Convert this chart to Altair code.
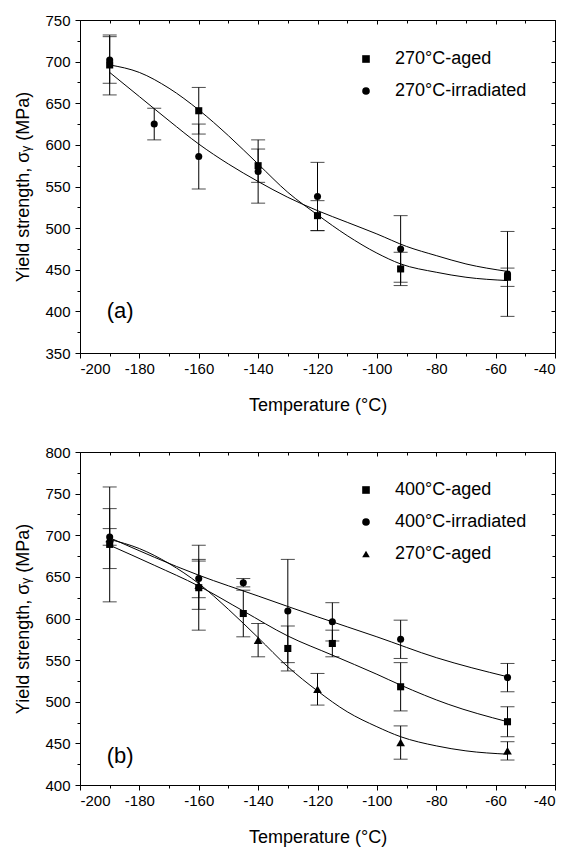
import altair as alt
import pandas as pd

# ---------------- Panel (a) data ----------------
A_SERIES = ["270°C-aged", "270°C-irradiated"]
A_SHAPES = ["square", "circle"]
A_AGED_T = [-190, -160, -140, -120, -92, -56]
A_AGED_Y = [696, 641, 575, 515, 451, 441]
A_AGED_E = [36, 28, 20, 18, 20, 11]
A_IRR_T = [-190, -175, -160, -140, -120, -92, -56]
A_IRR_Y = [702, 625, 586, 568, 538, 475, 445]
A_IRR_E = [28, 19, 39, 38, 41, 40, 51]
A_AGED_FIT_T = [-190, -180, -170, -160, -150, -140, -130, -120, -110, -100, -92, -80, -70, -56]
A_AGED_FIT_Y = [696, 687, 668, 642, 611, 577, 543, 516, 491, 470, 457, 447, 441, 437]
A_IRR_FIT_T = [-190, -180, -170, -160, -150, -140, -130, -120, -110, -100, -90, -80, -70, -56]
A_IRR_FIT_Y = [687, 658, 629, 601, 577, 556, 537, 521, 507, 493, 478, 467, 457, 448]

# ---------------- Panel (b) data ----------------
B_SERIES = ["400°C-aged", "400°C-irradiated", "270°C-aged"]
B_SHAPES = ["square", "circle", "triangle-up"]
B_400_T = [-190, -160, -145, -130, -115, -92, -56]
B_AGED400_Y = [689, 637, 606, 564, 570, 518, 476]
B_AGED400_E = [69, 51, 28, 27, 16, 29, 18]
B_IRR400_Y = [698, 648, 643, 609, 596, 575, 529]
B_IRR400_E = [10, 23, 5, 62, 23, 23, 17]
B_AGED270_T = [-190, -160, -140, -120, -92, -56]
B_AGED270_Y = [696, 640, 574, 515, 451, 441]
B_AGED270_E = [36, 29, 20, 19, 20, 11]
B_AGED400_FIT_T = [-190, -175, -160, -145, -130, -115, -100, -92, -76, -56]
B_AGED400_FIT_Y = [688, 664, 639, 609, 579, 556, 533, 520, 497, 476]
B_IRR400_FIT_T = [-190, -160, -140, -120, -100, -80, -56]
B_IRR400_FIT_Y = [697, 652, 627, 602, 578, 553, 530]
B_AGED270_FIT_T = [-190, -180, -170, -160, -150, -140, -130, -120, -110, -100, -92, -80, -70, -56]
B_AGED270_FIT_Y = [695, 684, 666, 642, 611, 577, 542, 513, 488, 470, 458, 447, 441, 437]

X_TICKS = list(range(-200, -39, 10))
W, H = 475, 333
FONT = "Liberation Sans"


def pts_frame(series, ts, ys, es):
    rows = []
    for s, t, y, e in zip(series, ts, ys, es):
        for ti, yi, ei in zip(t, y, e):
            rows.append({"series": s, "T": ti, "val": yi, "lo": yi - ei, "hi": yi + ei})
    return pd.DataFrame(rows)


def fit_frame(series, ts, ys):
    rows = []
    for s, t, y in zip(series, ts, ys):
        for ti, yi in zip(t, y):
            rows.append({"series": s, "T": ti, "val": yi})
    return pd.DataFrame(rows)


def cond_size(step, major, minor):
    return {"condition": {"test": f"datum.value % {step} == 0", "value": major}, "value": minor}


def panel(pts, fits, order, shapes, ymin, ymax, label, label_val, leg_y, tri_series=None):
    xs = alt.Scale(domain=[-200, -40], nice=False, zero=False)
    ys = alt.Scale(domain=[ymin, ymax], nice=False, zero=False)
    y_ticks = list(range(ymin, ymax + 1, 25))

    x_main = alt.Axis(orient="bottom", values=X_TICKS,
                      labelExpr="datum.value % 20 == 0 ? '' + datum.value : ''",
                      tickSize=cond_size(20, 5, 3), labelPadding=3,
                      title="Temperature (°C)", titlePadding=20)
    y_main = alt.Axis(orient="left", values=y_ticks,
                      labelExpr="datum.value % 50 == 0 ? '' + datum.value : ''",
                      tickSize=cond_size(50, 5, 3), labelPadding=5,
                      title="Yield strength, σᵧ (MPa)", titlePadding=12)
    x_mirror = alt.Axis(orient="bottom", offset=-H, values=X_TICKS, labels=False,
                        domain=False, title=None, tickSize=cond_size(20, 4, 3))
    y_mirror = alt.Axis(orient="left", offset=-W, values=y_ticks, labels=False,
                        domain=False, title=None, tickSize=cond_size(50, 4, 3))

    curves = alt.Chart(fits).mark_line(color="black", strokeWidth=1, interpolate="monotone").encode(
        x=alt.X("T:Q", scale=xs, axis=x_main),
        y=alt.Y("val:Q", scale=ys, axis=y_main),
        detail="series:N",
    )
    mirror = alt.Chart(pts).mark_point(opacity=0).encode(
        x=alt.X("T:Q", scale=xs, axis=x_mirror),
        y=alt.Y("val:Q", scale=ys, axis=y_mirror),
    )
    bars = alt.Chart(pts).mark_rule(color="black", strokeWidth=1).encode(
        x=alt.X("T:Q", scale=xs, axis=None),
        y=alt.Y("lo:Q", scale=ys, axis=None),
        y2="hi:Q",
    )
    cap_lo = alt.Chart(pts).mark_tick(color="black", orient="horizontal", size=14, thickness=1).encode(
        x=alt.X("T:Q", scale=xs, axis=None),
        y=alt.Y("lo:Q", scale=ys, axis=None),
    )
    cap_hi = alt.Chart(pts).mark_tick(color="black", orient="horizontal", size=14, thickness=1).encode(
        x=alt.X("T:Q", scale=xs, axis=None),
        y=alt.Y("hi:Q", scale=ys, axis=None),
    )
    if tri_series:
        size_enc = alt.condition(f"datum.series == '{tri_series}'", alt.value(75), alt.value(50))
    else:
        size_enc = alt.value(50)
    points = alt.Chart(pts).mark_point(filled=True, color="black", opacity=1).encode(
        x=alt.X("T:Q", scale=xs, axis=None),
        y=alt.Y("val:Q", scale=ys, axis=None),
        size=size_enc,
        shape=alt.Shape("series:N", scale=alt.Scale(domain=order, range=shapes),
                        legend=alt.Legend(orient="none", legendX=277, legendY=leg_y, title=None,
                                          labelFontSize=18, labelFont=FONT, symbolSize=58,
                                          symbolFillColor="black", symbolStrokeColor="black",
                                          labelColor="black",
                                          rowPadding=14, labelOffset=20, padding=0)),
    )
    lab = alt.Chart(pd.DataFrame({"T": [-191], "val": [label_val], "t": [label]})).mark_text(
        align="left", baseline="middle", fontSize=22, font=FONT, color="black"
    ).encode(
        x=alt.X("T:Q", scale=xs, axis=None),
        y=alt.Y("val:Q", scale=ys, axis=None),
        text="t:N",
    )
    return alt.layer(curves, mirror, bars, cap_lo, cap_hi, points, lab).resolve_axis(
        x="independent", y="independent"
    ).properties(width=W, height=H)


pts_a = pts_frame(A_SERIES, [A_AGED_T, A_IRR_T], [A_AGED_Y, A_IRR_Y], [A_AGED_E, A_IRR_E])
fit_a = fit_frame(A_SERIES, [A_AGED_FIT_T, A_IRR_FIT_T], [A_AGED_FIT_Y, A_IRR_FIT_Y])
pts_b = pts_frame(B_SERIES, [B_400_T, B_400_T, B_AGED270_T],
                  [B_AGED400_Y, B_IRR400_Y, B_AGED270_Y], [B_AGED400_E, B_IRR400_E, B_AGED270_E])
fit_b = fit_frame(B_SERIES, [B_AGED400_FIT_T, B_IRR400_FIT_T, B_AGED270_FIT_T],
                  [B_AGED400_FIT_Y, B_IRR400_FIT_Y, B_AGED270_FIT_Y])

pa = panel(pts_a, fit_a, A_SERIES, A_SHAPES, 350, 750, "(a)", 400, 30)
pb = panel(pts_b, fit_b, B_SERIES, B_SHAPES, 400, 800, "(b)", 435, 29, tri_series="270°C-aged")

chart = alt.vconcat(pa, pb, spacing=29).resolve_scale(
    x="independent", y="independent", shape="independent"
).resolve_legend(shape="independent").properties(
    padding={"top": 4, "left": 6, "right": 2, "bottom": 0},
    background="white",
).configure_view(stroke="black", strokeWidth=1).configure_axis(
    labelFont=FONT, titleFont=FONT, labelFontSize=15, titleFontSize=18,
    titleFontWeight="normal", labelColor="black", titleColor="black",
    domainColor="black", tickColor="black", grid=False,
)

chart.save("out.html", embed_options={"renderer": "svg", "actions": False})
